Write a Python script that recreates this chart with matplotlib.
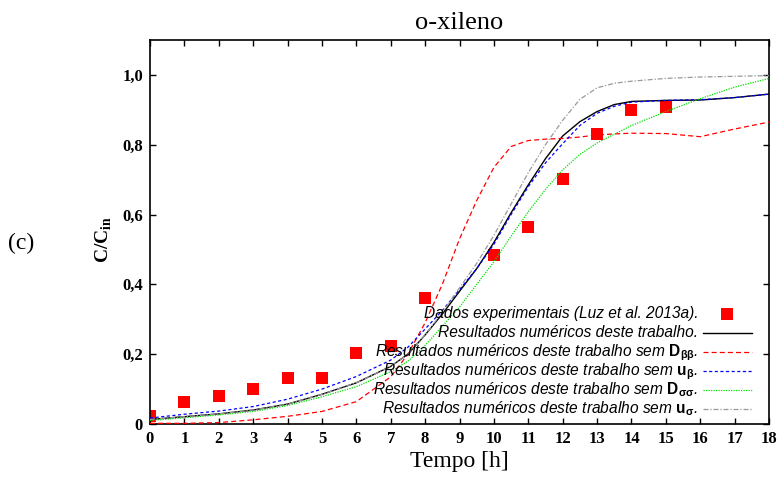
import matplotlib
matplotlib.use("Agg")
import matplotlib.pyplot as plt
from matplotlib.ticker import FixedLocator, FixedFormatter
from matplotlib.lines import Line2D

plt.rcParams["mathtext.fontset"] = "custom"
plt.rcParams["mathtext.rm"] = "Liberation Serif:bold"
plt.rcParams["mathtext.bf"] = "Liberation Sans:bold"
plt.rcParams["mathtext.it"] = "Liberation Sans:italic"

# Experimental breakthrough data (Luz et al. 2013a)
t_exp = [0, 1, 2, 3, 4, 5, 6, 7, 8, 10, 11, 12, 13, 14, 15]
c_exp = [0.023, 0.063, 0.080, 0.100, 0.132, 0.132, 0.203, 0.223, 0.361,
         0.484, 0.564, 0.702, 0.831, 0.900, 0.908]

# Simulation time grid [h]
t_sim = [0, 1, 2, 3, 4, 5, 6, 7, 7.5, 8, 8.5, 9, 9.5, 10, 10.5, 11, 11.5,
         12, 12.5, 13, 13.5, 14, 15, 16, 17, 18]

# Full model
c_full = [0.013, 0.021, 0.029, 0.040, 0.057, 0.085, 0.118, 0.165, 0.200,
          0.255, 0.315, 0.380, 0.445, 0.520, 0.605, 0.685, 0.760, 0.825,
          0.866, 0.895, 0.915, 0.924, 0.927, 0.928, 0.935, 0.945]
# Without D_beta_beta
c_no_dbb = [0.002, 0.002, 0.004, 0.012, 0.022, 0.036, 0.064, 0.135, 0.200,
            0.290, 0.400, 0.530, 0.640, 0.735, 0.795, 0.812, 0.816, 0.818,
            0.822, 0.828, 0.831, 0.833, 0.832, 0.823, 0.845, 0.865]
# Without u_beta
c_no_ub = [0.017, 0.028, 0.037, 0.050, 0.071, 0.100, 0.136, 0.183, 0.220,
           0.272, 0.325, 0.385, 0.445, 0.515, 0.600, 0.680, 0.748, 0.803,
           0.855, 0.890, 0.910, 0.922, 0.927, 0.929, 0.935, 0.945]
# Without D_sigma_sigma
c_no_dss = [0.010, 0.018, 0.026, 0.036, 0.053, 0.078, 0.107, 0.150, 0.180,
            0.225, 0.280, 0.335, 0.400, 0.465, 0.538, 0.608, 0.672, 0.728,
            0.772, 0.805, 0.830, 0.855, 0.895, 0.932, 0.965, 0.990]
# Without u_sigma
c_no_us = [0.013, 0.021, 0.029, 0.040, 0.057, 0.085, 0.118, 0.165, 0.200,
           0.255, 0.320, 0.390, 0.460, 0.540, 0.630, 0.720, 0.800, 0.870,
           0.930, 0.963, 0.976, 0.982, 0.990, 0.994, 0.996, 0.998]

x_ticks = list(range(0, 19))
y_ticks = [0, 0.2, 0.4, 0.6, 0.8, 1.0]
y_tick_labels = ["0", "0,2", "0,4", "0,6", "0,8", "1,0"]

exp_label = "Dados experimentais (Luz et al. 2013a)."
sim_labels = [
    "Resultados numéricos deste trabalho.",
    r"Resultados numéricos deste trabalho sem $\mathbf{D}_{\mathbf{\beta\beta}}$.",
    r"Resultados numéricos deste trabalho sem $\mathbf{u}_{\mathbf{\beta}}$.",
    r"Resultados numéricos deste trabalho sem $\mathbf{D}_{\mathbf{\sigma\sigma}}$.",
    r"Resultados numéricos deste trabalho sem $\mathbf{u}_{\mathbf{\sigma}}$.",
]
sim_series = [c_full, c_no_dbb, c_no_ub, c_no_dss, c_no_us]
sim_styles = [
    dict(color="black", lw=1.0, linestyle="-"),
    dict(color="#ff0000", lw=0.9, linestyle=(0, (4, 2.5))),
    dict(color="#0000ff", lw=0.9, linestyle=(0, (2.5, 2))),
    dict(color="#00e000", lw=0.9, linestyle=(0, (1, 1))),
    dict(color="#999999", lw=0.9, linestyle=(0, (4, 1.5, 1, 1.5))),
]
exp_style = dict(linestyle="none", marker="s", markersize=8.5,
                 color="#ff0000", markeredgewidth=0)

fig = plt.figure(figsize=(7.84, 4.8), dpi=100)
ax = fig.add_axes([150 / 784, 1 - 424 / 480, 619 / 784, 384 / 480])

ax.plot(t_exp, c_exp, zorder=2, **exp_style)
for c, st in zip(sim_series, sim_styles):
    ax.plot(t_sim, c, zorder=3, **st)

ax.set_xlim(0, 18)
ax.set_ylim(0, 1.1)
ax.xaxis.set_major_locator(FixedLocator(x_ticks))
ax.yaxis.set_major_locator(FixedLocator(y_ticks))
ax.yaxis.set_major_formatter(FixedFormatter(y_tick_labels))
ax.tick_params(direction="in", top=True, right=True, length=4.5, width=1.0,
               pad=5)
for lbl in ax.get_xticklabels() + ax.get_yticklabels():
    lbl.set_fontfamily("Liberation Serif")
    lbl.set_fontweight("bold")
    lbl.set_fontsize(12)
for s in ax.spines.values():
    s.set_linewidth(1.2)

ax.set_xlabel("Tempo [h]", fontfamily="Liberation Serif", fontsize=17,
              labelpad=3)
ax.set_ylabel(r"C/C$_{\mathrm{in}}$", fontfamily="Liberation Serif",
              fontweight="bold", fontsize=14)
ax.yaxis.set_label_coords(-0.06, 0.48)
ax.set_title("o-xileno", fontfamily="Liberation Serif", fontsize=19, pad=8)

fig.text(8 / 784, 1 - 243 / 480, "(c)", fontfamily="Liberation Serif",
         fontsize=17, va="center", ha="left")

# Key: right-aligned labels with samples on the right, evenly spaced rows
key_text_x = 0.8853
key_line = (0.8934, 0.9725)
key_top = 0.2864
key_step = 0.0495
baseline_shift = 0.011
key_labels = [exp_label] + sim_labels
key_styles = [exp_style] + sim_styles
for i, (lab, st) in enumerate(zip(key_labels, key_styles)):
    yr = key_top - i * key_step
    ax.text(key_text_x, yr - baseline_shift, lab, transform=ax.transAxes,
            ha="right", va="baseline", family="Liberation Sans",
            style="italic", fontsize=11.2)
    if st is exp_style:
        sample = Line2D([sum(key_line) / 2], [yr], transform=ax.transAxes,
                        **st)
    else:
        sample = Line2D(list(key_line), [yr, yr], transform=ax.transAxes,
                        **st)
    ax.add_line(sample)

fig.savefig("out.png", dpi=100)
